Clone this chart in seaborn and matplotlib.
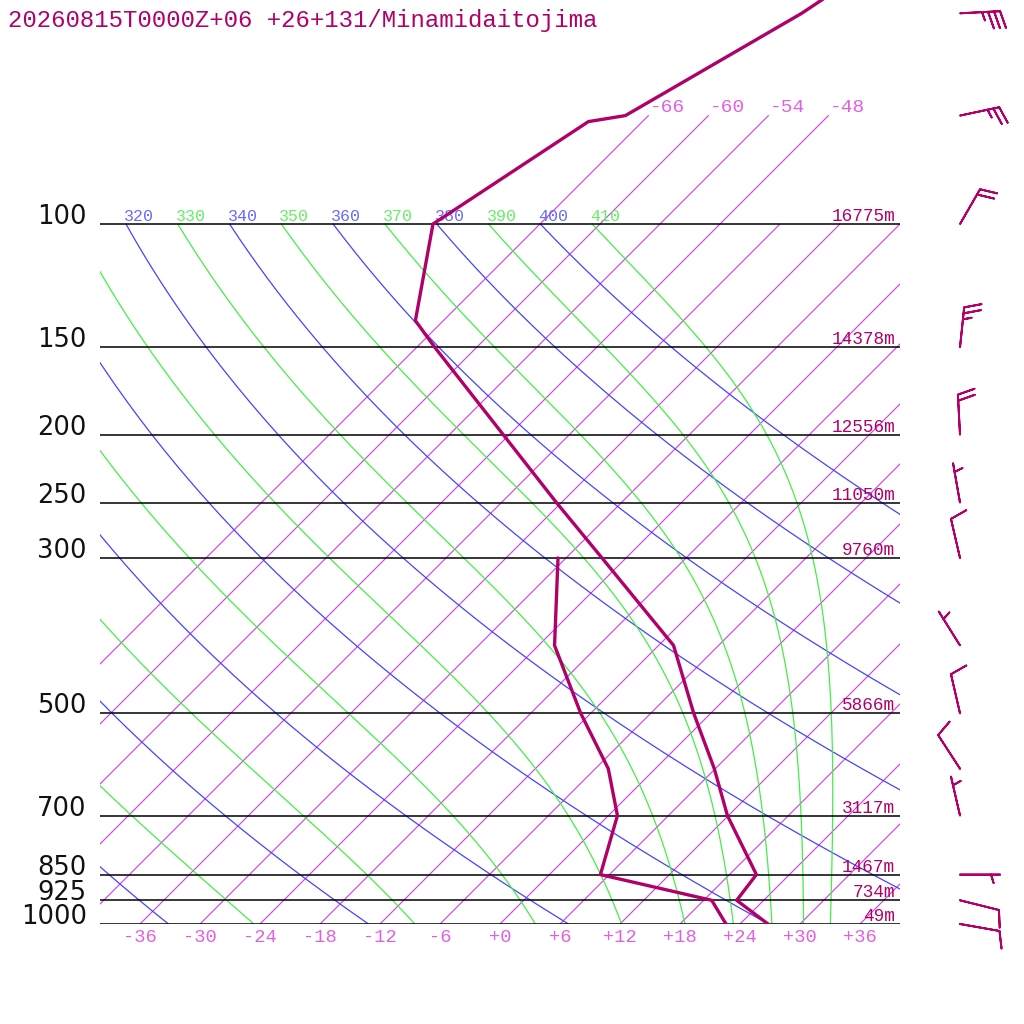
import numpy as np
import pandas as pd
import matplotlib
matplotlib.use("Agg")
import matplotlib.pyplot as plt
import matplotlib.transforms as mtransforms
import seaborn as sns

# Sounding data
pres = [1000, 925, 850, 700, 600, 500, 400, 300, 250, 200, 150, 137.4, 100, 71.4, 70, 50, 30]
temp = [26.8, 21.3, 20.7, 11.9, 5.9, -1.7, -10.5, -26.4, -36.5, -48.6, -64.2, -68.8,
        -76.7, -71.4, -68.3, -60.9, -53.1]
dew_pres = [1000, 925, 850, 700, 600, 500, 400, 300]
dewp = [22.6, 18.8, 5.1, 0.9, -4.7, -13.0, -22.4, -30.8]

# wind barbs: direction (deg from), speed (kt)
wind_pres = [1000, 925, 850, 700, 600, 500, 400, 300, 250, 200, 150, 100, 70, 50]
wind_dir = [100, 104, 90, 347, 327, 347, 328, 347, 350, 357, 6, 30, 78, 87]
wind_spd = [10, 10, 5, 5, 10, 10, 5, 10, 5, 20, 25, 20, 25, 35]

# standard levels with heights
std_pres = [1000, 925, 850, 700, 500, 300, 250, 200, 150, 100]
std_hgt = [49, 734, 1467, 3117, 5866, 9760, 11050, 12556, 14378, 16775]

isotherms = list(range(-66, 37, 6))
dry_thetas = list(range(240, 401, 20))
moist_thetas = list(range(250, 411, 20))
theta_labels = list(range(310, 411, 10))

title = "20260815T0000Z+06 +26+131/Minamidaitojima"

SKEW = 30.4
P_TOP = 1000 * np.exp(-924 / 304)
KAPPA = 0.2857
RD, CP, LV, EPS = 287.04, 1005.7, 2.501e6, 0.622

LINE_C = "#b0006a"
ISO_C = "#d444e6"
ISO_TXT = "#e060e0"
BLUE = "#4444ff"
GREEN = "#44ee44"
MONO = "Liberation Mono"


def skew_x(t, p):
    return np.asarray(t, dtype=float) + SKEW * np.log(1000.0 / np.asarray(p, dtype=float))


def dtdp(t, p):
    es = 6.112 * np.exp(17.67 * (t - 273.15) / (t - 29.65))
    rs = EPS * es / (p - es)
    return (RD * t + LV * rs) / (p * (CP + LV ** 2 * rs * EPS / (RD * t ** 2)))


def moist_adiabat(theta, plev):
    t = theta * (plev[0] / 1000.0) ** KAPPA
    out = [t]
    for p0, p1 in zip(plev[:-1], plev[1:]):
        h = p1 - p0
        k1 = dtdp(t, p0)
        k2 = dtdp(t + h * k1 / 2, p0 + h / 2)
        k3 = dtdp(t + h * k2 / 2, p0 + h / 2)
        k4 = dtdp(t + h * k3, p1)
        t = t + h * (k1 + 2 * k2 + 2 * k3 + k4) / 6
        out.append(t)
    return np.array(out) - 273.15


sns.set_style("white")
plt.rcParams["font.family"] = ["DejaVu Sans"]

fig = plt.figure(figsize=(10.24, 10.24), dpi=100)
ax = fig.add_axes([100 / 1024, 100 / 1024, 800 / 1024, 924 / 1024])
ax.set_yscale("log")
ax.set_ylim(1000, P_TOP)
ax.set_xlim(-40, 40)
ax.set_axis_off()

# dry adiabats
plev = np.linspace(100, 1000, 181)
for th in dry_thetas:
    tt = th * (plev / 1000.0) ** KAPPA - 273.15
    ax.plot(skew_x(tt, plev), plev, color=BLUE, lw=0.9, zorder=2)

# moist adiabats
for th in moist_thetas:
    tt = moist_adiabat(th, plev)
    ax.plot(skew_x(tt, plev), plev, color=GREEN, lw=0.9, zorder=2)

# theta labels at 100 hPa
lab_off = mtransforms.offset_copy(ax.transData, fig, x=-2, y=3, units="dots")
for th in theta_labels:
    t100 = th * 0.1 ** KAPPA - 273.15
    txt = ax.text(skew_x(t100, 100), 100, str(th), transform=lab_off, ha="left",
                  va="baseline", color="#6a6aff" if th % 20 == 0 else "#66ee66",
                  fontsize=12, family=MONO)
    txt.set_clip_box(ax.bbox)
    txt.set_clip_on(True)

# isotherms
for t in isotherms:
    ptop = 70 if t <= -48 else 100
    pp = np.array([1000, ptop])
    ax.plot(skew_x([t, t], pp), pp, color=ISO_C, lw=0.85, zorder=1)
    if ptop == 70:
        ax.text(skew_x(t, 70) + 0.1, 70, f"{t:+d}", ha="left", va="bottom",
                color=ISO_TXT, fontsize=14, family=MONO)

# isobars
ax.hlines(std_pres, -40, 40, color="black", lw=1.1, zorder=3)

# bottom temperature labels
bot = mtransforms.blended_transform_factory(ax.transData, ax.transAxes)
for t in isotherms:
    if -40 < t < 40:
        ax.text(t, -0.0055, f"{t:+d}", transform=bot, ha="center", va="top",
                color=ISO_TXT, fontsize=13.5, family=MONO)

# pressure labels on the left
left = mtransforms.blended_transform_factory(ax.transAxes, ax.transData)
for p in std_pres:
    ax.text(-0.0165, p, str(p), transform=left, ha="right", va="baseline",
            color="#111111", fontsize=18.5)

# height labels on the right
hgt_off = mtransforms.offset_copy(ax.transData, fig, x=0, y=3, units="dots")
for p, h in zip(std_pres, std_hgt):
    ax.text(39.5, p, f"{h}m", transform=hgt_off, ha="right", va="baseline",
            color=LINE_C, fontsize=12.8, family=MONO, zorder=5)

# temperature and dewpoint profiles
snd = pd.DataFrame({"x": skew_x(temp, pres), "p": pres})
dew = pd.DataFrame({"x": skew_x(dewp, dew_pres), "p": dew_pres})
sns.lineplot(data=snd, x="x", y="p", sort=False, estimator=None, ax=ax,
             color=LINE_C, lw=2.4, zorder=6)
sns.lineplot(data=dew, x="x", y="p", sort=False, estimator=None, ax=ax,
             color=LINE_C, lw=2.4, zorder=6)
ax.set_ylim(1000, P_TOP)
ax.set_xlim(-40, 40)

# wind barbs
bax = fig.add_axes([900 / 1024, 100 / 1024, 124 / 1024, 924 / 1024])
bax.set_yscale("log")
bax.set_ylim(1000, P_TOP)
bax.set_xlim(0, 124)
bax.set_axis_off()
d = np.deg2rad(np.array(wind_dir))
s = np.array(wind_spd)
u = -s * np.sin(d)
v = -s * np.cos(d)
bax.barbs(np.full(len(wind_pres), 60), wind_pres, u, v, length=7.6,
          sizes=dict(spacing=0.15, height=0.42), color=LINE_C, lw=1.4, clip_on=False)

fig.text(8 / 1024, 1 - 9 / 1024, title, ha="left", va="top", color=LINE_C,
         fontsize=17.3, family=MONO)

fig.savefig("out.png", dpi=100, facecolor="white")
